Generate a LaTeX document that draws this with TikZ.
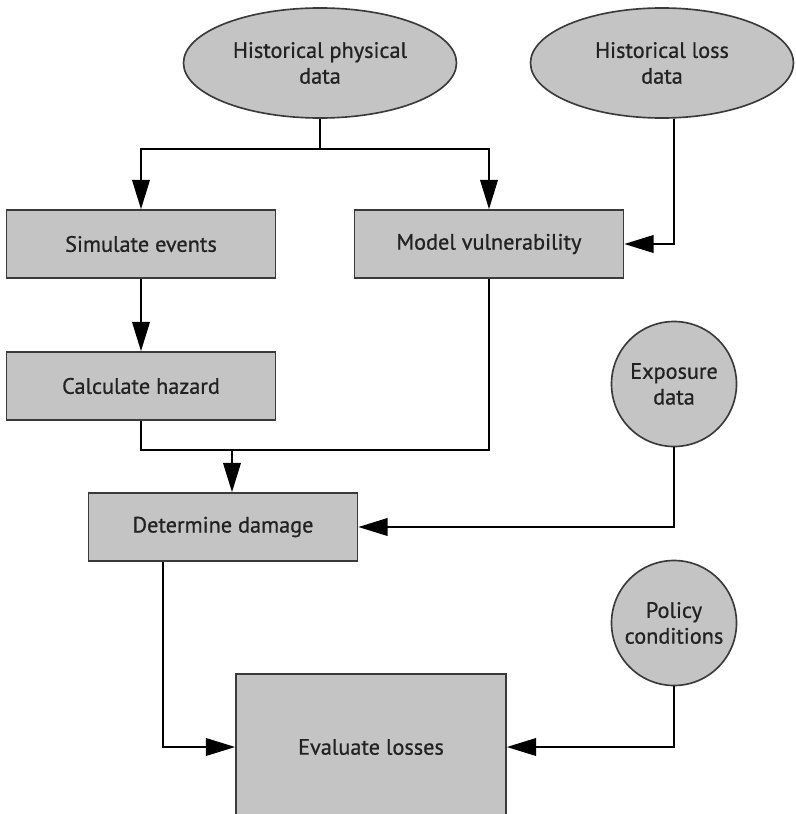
\documentclass[tikz,border=0pt]{standalone}
\usepackage{fontspec}
\setmainfont{PT Sans}
\newfontfamily\chartfont{PT Sans}[FakeBold=0.7]
\usepackage{tikz}
\usetikzlibrary{arrows.meta, shapes.geometric, positioning}
\definecolor{boxgray}{HTML}{C4C4C4}
\definecolor{edgegray}{HTML}{3A3A3A}
\definecolor{textgray}{HTML}{222222}
\tikzset{
	basenode/.style={
			draw=edgegray,
			fill=boxgray,
			line width=1.4pt,
			text=textgray,
			inner sep=0pt,
			align=center,
			font=\chartfont\fontsize{19pt}{22pt}\selectfont
		},
	processnode/.style={
			basenode,
			shape=rectangle,
			minimum width=8.07cm,
			minimum height=2.04cm
		},
	datanode/.style={
			basenode,
			ellipse,
			minimum height=3.3cm
		},
	roundnode/.style={
			basenode,
			circle,
			minimum size=3.75cm
		}
}
\tikzset{
	flowline/.style={line width=1.6pt, black},
	flowarrow/.style={flowline, -{Triangle[length=25pt,width=15pt]}}
}
\begin{document}
\begin{tikzpicture}[x=0.03cm, y=-0.03cm]

	\clip (0,0) rectangle (796,814);

	\node[datanode, minimum width=8.19cm] (physdata) at (320,63) {Historical physical\\data};
	\node[datanode, minimum width=7.89cm] (lossdata) at (662,63) {Historical loss\\data};

	\node[processnode] (simulate) at (141,244) {Simulate events};
	\node[processnode] (vulner) at (489,244) {Model vulnerability};
	\node[processnode] (hazard) at (141,386) {Calculate hazard};
	\node[processnode] (damage) at (223,527) {Determine damage};
	\node[processnode, minimum width=8.1cm, minimum height=4.38cm] (losses) at (371,747) {Evaluate losses};

	\node[roundnode] (exposure) at (674,384) {Exposure\\data};
	\node[roundnode] (policy) at (674,623) {Policy\\conditions};

	\coordinate (split) at (320,149);
	\coordinate (merge) at (232,450);

	\draw[flowline] (physdata.south) -- (split);
	\draw[flowarrow] (split) -| (simulate.north);
	\draw[flowarrow] (split) -| (vulner.north);
	\draw[flowarrow] (lossdata.south -| exposure.center) |- (vulner.east);

	\draw[flowarrow] (simulate) -- (hazard);
	\draw[flowline] (hazard.south) |- (merge) -| (vulner.south);
	\draw[flowarrow] (merge) -- (merge |- damage.north);

	\draw[flowarrow] (exposure.south) |- (damage.east);
	\draw[flowarrow] ([xshift=-1.8cm]damage.south) |- (losses.west);
	\draw[flowarrow] (policy.south) |- (losses.east);

\end{tikzpicture}
\end{document}
